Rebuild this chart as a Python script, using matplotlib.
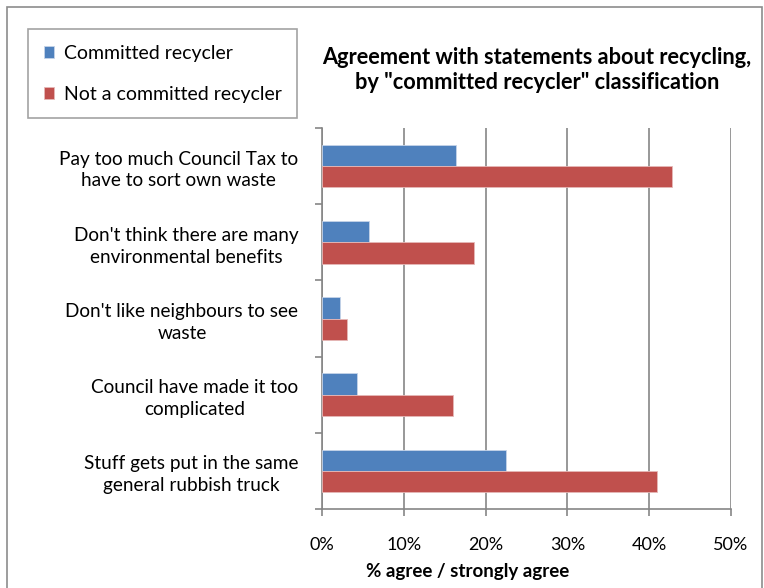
import numpy as np
import matplotlib.pyplot as plt
from matplotlib.patches import Rectangle

plt.rcParams['font.family'] = ['Lato', 'DejaVu Sans']

statements = [
    "Pay too much Council Tax to\nhave to sort own waste",
    "Don't think there are many\nenvironmental benefits",
    "Don't like neighbours to see\nwaste",
    "Council have made it too\ncomplicated",
    "Stuff gets put in the same\ngeneral rubbish truck",
]
committed = [16.4, 5.7, 2.2, 4.3, 22.5]
not_committed = [42.8, 18.6, 3.0, 16.0, 41.0]
series_names = ["Committed recycler", "Not a committed recycler"]
xticks = [0, 10, 20, 30, 40, 50]

blue = '#4F81BD'
red = '#C0504D'
grid_grey = '#868686'

fig = plt.figure(figsize=(7.64, 5.88), dpi=100)
fig.patches.append(Rectangle((7 / 764, -0.05), 755 / 764, 1.05 - 7 / 588,
                             transform=fig.transFigure, fill=False,
                             edgecolor='#8c8c8c', linewidth=1.2))

ax = fig.add_axes([322 / 764, 1 - 509 / 588, 409 / 764, 381 / 588])

y = np.arange(len(statements))
h = 0.28
ax.barh(y - h / 2, committed, height=h, color=blue, edgecolor='#c6d4e8',
        linewidth=0.6, label=series_names[0], zorder=3)
ax.barh(y + h / 2, not_committed, height=h, color=red, edgecolor='#e6b8b7',
        linewidth=0.6, label=series_names[1], zorder=3)

ax.set_xlim(0, 50)
ax.set_ylim(len(statements) - 0.5, -0.5)

ax.set_xticks(xticks)
ax.set_xticklabels([f"{v}%" for v in xticks], fontsize=13)
ax.tick_params(axis='x', length=5, color=grid_grey, width=1.2, pad=15)
ax.grid(axis='x', color=grid_grey, linewidth=1.2, zorder=0)

ax.set_yticks(y)
ax.set_yticklabels(statements, fontsize=13.7, linespacing=1.35)
for lbl in ax.get_yticklabels():
    lbl.set_multialignment('center')
ax.tick_params(axis='y', which='major', length=0, pad=17)
ax.set_yticks(np.arange(len(statements) + 1) - 0.5, minor=True)
ax.tick_params(axis='y', which='minor', length=5, color=grid_grey, width=1.2)

for side in ['top', 'right']:
    ax.spines[side].set_visible(False)
for side in ['left', 'bottom']:
    ax.spines[side].set_color(grid_grey)
    ax.spines[side].set_linewidth(1.2)

ax.set_xlabel("% agree / strongly agree", fontsize=13.5, fontweight='bold',
              va='center')
ax.xaxis.set_label_coords(0.355, -(571 - 509) / 381)

fig.text(537 / 764, 1 - 70 / 588,
         'Agreement with statements about recycling,\nby "committed recycler" classification',
         ha='center', va='center', fontsize=15.7, fontweight='bold',
         linespacing=1.25)

leg = fig.legend(loc='upper left', bbox_to_anchor=(28 / 764, 1 - 29 / 588),
                 fontsize=14, frameon=True, fancybox=False,
                 handlelength=0.55, handleheight=0.55, handletextpad=0.5,
                 labelspacing=1.25, borderpad=0.8, borderaxespad=0)
leg.get_frame().set_edgecolor('#8c8c8c')
leg.get_frame().set_linewidth(1.2)

fig.savefig('out.png', dpi=100)
